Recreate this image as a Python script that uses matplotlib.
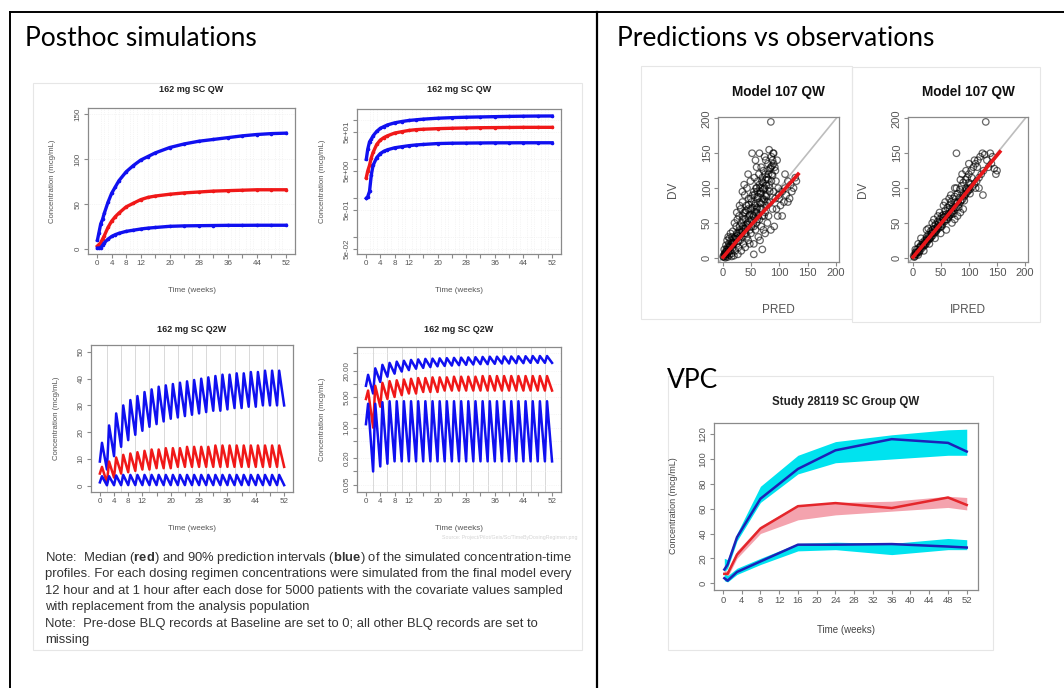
import matplotlib
matplotlib.use("Agg")
import matplotlib.pyplot as plt
from matplotlib.lines import Line2D
from matplotlib.patches import Rectangle

plt.rcParams["font.family"] = ["Liberation Sans", "DejaVu Sans"]
plt.rcParams["mathtext.fontset"] = "custom"
plt.rcParams["mathtext.rm"] = "Liberation Sans"
plt.rcParams["mathtext.bf"] = "Liberation Sans:bold"

# ---- posthoc QW (same simulated profile, linear + log scale)
qw_time = [0.1, 0.5, 1, 1.5, 2, 3, 4, 5, 6, 8, 10, 12, 14, 16, 20, 24, 28, 32, 36, 40, 44, 48, 52]
qw_upper = [10, 18, 28, 33, 40, 52, 62, 69, 76, 86, 93, 99, 103, 107, 113, 117, 120, 122, 124, 126, 127.5, 128.5, 129]
qw_median = [3.4, 5, 7, 11, 15, 24, 31, 36, 40, 47, 51, 55, 57.5, 59, 61, 62.5, 63.5, 64.5, 65, 65.5, 66, 66, 66]
qw_lower = [1.0, 1.1, 1.5, 4, 7, 11, 14, 16, 17.5, 19.7, 21, 22.3, 23.3, 24, 25.3, 25.8, 26, 26.2, 26.4, 26.4, 26.5, 26.5, 26.5]

# ---- posthoc Q2W: value at start, then peak / trough for every dose
q2w_peak_week = [0.6, 2.6, 4.6, 6.6, 8.6, 10.6, 12.6, 14.6, 16.6, 18.6, 20.6, 22.6, 24.6,
                 26.6, 28.6, 30.6, 32.6, 34.6, 36.6, 38.6, 40.6, 42.6, 44.6, 46.6, 48.6, 50.6]
q2w_trough_week = [2, 4, 6, 8, 10, 12, 14, 16, 18, 20, 22, 24, 26,
                   28, 30, 32, 34, 36, 38, 40, 42, 44, 46, 48, 50, 52]
q2w_start = [9, 4.5, 1.2]
q2w_upper_peak = [16, 22.5, 27, 30, 32, 33.5, 35, 36, 37, 37.5, 38, 38.5, 39,
                  39.5, 40, 40.5, 41, 41.5, 41.5, 42, 42, 42.5, 42.5, 43, 43, 43]
q2w_upper_trough = [6, 11, 14.5, 17, 19, 20.5, 22, 23, 24, 25, 25.5, 26, 26.5,
                    27, 27.5, 28, 28, 28.5, 29, 29, 29.5, 29.5, 30, 30, 30, 30]
q2w_median_peak = [7, 9, 10.5, 11.5, 12, 12.5, 13, 13.5, 13.5, 14, 14, 14, 14.5,
                   14.5, 14.5, 14.5, 15, 15, 15, 15, 15, 15, 15, 15, 15, 15]
q2w_median_trough = [1, 3, 4.5, 5, 5.5, 6, 6, 6.5, 6.5, 6.5, 7, 7, 7,
                     7, 7, 7, 7, 7, 7, 7, 7, 7, 7, 7, 7, 7]
q2w_lower_peak = [3.5, 3.5, 3.8, 4, 4, 4, 4, 4, 4, 4, 4, 4, 4,
                  4, 4, 4, 4, 4, 4, 4, 4, 4, 4, 4, 4, 4]
q2w_lower_trough = [0.1, 0.13, 0.15, 0.17, 0.17, 0.17, 0.17, 0.17, 0.17, 0.17, 0.17, 0.17, 0.17,
                    0.17, 0.17, 0.17, 0.17, 0.17, 0.17, 0.17, 0.17, 0.17, 0.17, 0.17, 0.17, 0.17]

week_ticks = [0, 4, 8, 12, 16, 20, 24, 28, 32, 36, 40, 44, 48, 52]
week_labels = ["0", "4", "8", "12", "", "20", "", "28", "", "36", "", "44", "", "52"]
qw_log_ticks = [0.05, 0.1, 0.5, 1, 5, 10, 50, 100]
qw_log_labels = ["5e-02", "", "5e-01", "", "5e+00", "", "5e+01", ""]
q2w_log_ticks = [0.05, 0.1, 0.2, 0.5, 1, 2, 5, 10, 20, 50]
q2w_log_labels = ["0.05", "", "0.20", "", "1.00", "", "5.00", "", "20.00", ""]

# ---- goodness of fit
pred_x = [1, 2, 3, 4, 5, 6, 7, 8, 9, 10, 11, 12, 13, 14, 15, 16, 17, 18, 19, 20, 3, 6, 8, 10, 12, 14, 5, 9, 16, 18,
          22, 23, 24, 25, 26, 27, 28, 29, 30, 31, 32, 33, 34, 35, 36, 37, 38, 39, 40, 41, 42, 43, 44, 45, 46, 47, 48, 49, 50,
          21, 25, 30, 35, 40, 45, 48, 33, 27, 38, 43,
          51, 52, 53, 54, 55, 56, 57, 58, 59, 60, 61, 62, 63, 64, 65, 66, 67, 68, 69, 70, 71, 72, 73, 74, 75, 76, 77, 78, 79, 80,
          55, 58, 62, 66, 70, 74, 78, 60, 68, 72,
          81, 82, 83, 84, 85, 86, 87, 88, 89, 90, 91, 92, 93, 94, 95, 96, 97, 98, 99, 100, 85, 90, 93,
          102, 105, 108, 110, 112, 115, 118, 120, 122, 125, 128, 130, 115, 105, 110,
          15, 20, 25, 30, 35, 40, 45, 50, 55, 60, 65, 70, 75, 10, 5, 20, 25, 30, 35, 40, 45, 50, 55, 60, 65, 70, 75, 80, 85, 88, 90,
          50, 55, 60, 65, 70, 75,
          4, 7, 11, 13, 17, 19, 23, 26, 28, 31, 34, 37, 39, 42, 44, 47, 52, 54, 57, 61, 63, 67, 69, 73, 77, 79, 83, 86, 88, 82,
          36, 41, 46, 51, 56, 61, 66, 71, 76, 81, 84, 87, 62, 67, 72, 77, 80, 58, 53, 48]
pred_dv = [2, 1, 5, 3, 8, 2, 12, 5, 15, 8, 20, 4, 18, 10, 25, 6, 30, 14, 22, 3, 12, 18, 25, 30, 28, 35, 0, 1, 2, 38,
           10, 30, 45, 20, 55, 35, 15, 60, 40, 25, 70, 50, 30, 80, 45, 20, 65, 90, 55, 35, 75, 100, 50, 25, 85, 60, 40, 110, 70,
           50, 65, 75, 95, 15, 120, 20, 10, 5, 105, 30,
           45, 150, 90, 60, 5, 115, 75, 40, 100, 130, 55, 85, 30, 120, 150, 70, 95, 45, 110, 12, 80, 125, 60, 100, 35, 140, 75, 90, 50, 135,
           20, 140, 110, 25, 100, 145, 115, 65, 130, 40,
           60, 155, 100, 80, 195, 145, 120, 70, 150, 95, 45, 130, 85, 110, 70, 140, 60, 100, 90, 85, 40, 150, 125,
           75, 95, 80, 100, 90, 110, 85, 105, 95, 100, 115, 110, 80, 60, 120,
           15, 20, 28, 30, 38, 42, 48, 55, 60, 70, 80, 85, 90, 12, 5, 28, 35, 45, 55, 65, 70, 85, 95, 100, 105, 115, 120, 125, 130, 140, 135,
           35, 45, 50, 55, 60, 65,
           6, 9, 14, 16, 22, 20, 27, 32, 24, 36, 38, 42, 35, 48, 44, 52, 62, 50, 66, 72, 60, 78, 70, 84, 88, 80, 95, 110, 118, 105,
           60, 68, 76, 80, 90, 95, 100, 108, 112, 120, 128, 132, 88, 92, 98, 104, 112, 78, 72, 62]
ipred_x = [2, 4, 5, 7, 8, 10, 12, 13, 15, 17, 18, 20, 22, 24, 25, 27, 28, 30, 32, 33, 35, 36, 38, 40, 41, 43, 45, 46, 48, 50,
           52, 53, 55, 57, 58, 60, 62, 63, 65, 67, 68, 70, 72, 73, 75, 77, 78, 80, 82, 84, 85, 87, 89, 90, 92, 94, 95, 97, 98, 100,
           102, 104, 106, 108, 110, 112, 114, 116, 118, 120, 122, 124, 126, 128, 130, 132, 135, 138, 140, 142, 145, 148, 150,
           125, 118, 115, 110, 100, 95, 90, 85, 80, 75, 70, 60, 50, 40, 30, 20, 10, 45, 35, 25, 15, 10, 5, 55, 65, 75, 85,
           60, 70, 80, 90, 100, 50, 40, 30, 20, 15, 5, 3, 12, 22, 32, 42, 52, 62, 72, 82, 92, 102, 112, 100, 95, 105,
           65, 55, 45, 35, 25, 28, 38, 48, 58, 68, 78, 88,
           6, 9, 14, 19, 23, 26, 29, 34, 37, 39, 44, 47, 51, 54, 56, 59, 64, 66, 69, 71, 74, 76, 79, 83, 86, 88, 93, 96, 99, 103]
ipred_dv = [3, 2, 8, 5, 12, 9, 15, 10, 18, 14, 22, 17, 25, 20, 30, 24, 33, 27, 38, 30, 40, 32, 45, 36, 48, 40, 52, 42, 55, 45,
            60, 48, 62, 52, 68, 55, 72, 58, 75, 62, 80, 65, 85, 68, 88, 72, 150, 92, 76, 98, 80, 103, 84, 108, 88, 112, 92, 115, 95, 120,
            98, 125, 102, 130, 106, 135, 110, 140, 115, 145, 120, 150, 125, 148, 195, 140, 130, 150, 135, 145, 128, 120, 125,
            90, 100, 130, 140, 135, 125, 70, 65, 60, 55, 50, 40, 35, 28, 20, 10, 4, 60, 50, 40, 28, 20, 12, 75, 85, 100, 112,
            60, 70, 80, 90, 100, 50, 40, 30, 20, 15, 5, 1, 8, 18, 28, 38, 45, 55, 63, 72, 82, 92, 100, 108, 100, 115,
            60, 58, 45, 35, 25, 42, 55, 65, 80, 90, 100, 120,
            7, 8, 16, 18, 22, 28, 27, 36, 35, 42, 43, 50, 49, 57, 54, 62, 63, 70, 66, 74, 72, 80, 78, 86, 82, 92, 90, 98, 97, 105]
pred_fit_x = [1, 25, 50, 75, 100, 120, 133]
pred_fit_y = [1, 24, 47, 69, 90, 108, 120]
ipred_fit_x = [1, 40, 80, 120, 155]
ipred_fit_y = [1, 39, 78, 118, 152]
gof_ticks = [0, 50, 100, 150, 200]

# ---- VPC
vpc_time = [0.3, 1, 3, 8, 16, 24, 36, 48, 52]
obs_p95 = [11, 15, 37, 68, 92, 107, 116, 113, 106]
obs_p50 = [7.5, 7.5, 23, 44, 62, 64.5, 60.5, 69, 63]
obs_p05 = [4, 2, 9, 17.5, 31, 31, 31.5, 29.5, 28.7]
ci95_lo = [9, 12, 34, 65, 88, 97, 100, 103, 103]
ci95_hi = [20, 19, 40, 78, 103, 114, 119.5, 123.5, 124]
ci50_lo = [5, 5, 20, 40, 51, 55, 58, 61, 59]
ci50_hi = [10, 10, 26, 46, 63, 65, 66, 70, 69]
ci05_lo = [2, 1, 7, 15, 26, 27, 23, 27, 27]
ci05_hi = [8, 6, 12, 20, 32, 33, 32, 36, 35]
vpc_xticks = [0, 4, 8, 12, 16, 20, 24, 28, 32, 36, 40, 44, 48, 52]
vpc_yticks = [0, 20, 40, 60, 80, 100, 120]

note_lines = [
    "Note:  Median ($\\bf{red}$) and 90% prediction intervals ($\\bf{blue}$) of the simulated concentration-time",
    "profiles. For each dosing regimen concentrations were simulated from the final model every",
    "12 hour and at 1 hour after each dose for 5000 patients with the covariate values sampled",
    "with replacement from the analysis population",
    "Note:  Pre-dose BLQ records at Baseline are set to 0; all other BLQ records are set to",
    "missing",
]
note_y = [561, 577.5, 594, 610, 627, 643]  # baselines

W, H = 1064, 688
fig = plt.figure(figsize=(W / 100, H / 100), dpi=100)


def px_axes(x0, y0, x1, y1):
    return fig.add_axes([x0 / W, 1 - y1 / H, (x1 - x0) / W, (y1 - y0) / H])


def ptext(x, y, s, **kw):
    kw.setdefault("ha", "center")
    kw.setdefault("va", "center")
    return fig.text(x / W, 1 - y / H, s, **kw)


def r_style(ax, size):
    for sp in ax.spines.values():
        sp.set_color("#8a8a8a")
        sp.set_linewidth(0.9)
    ax.tick_params(colors="#8a8a8a", labelcolor="#555555", labelsize=size,
                   length=3, width=0.8, pad=1.5)
    for lab in ax.get_yticklabels():
        lab.set_rotation(90)
        lab.set_va("center")


# ---- table frame
fig.add_artist(Line2D([10 / W, 1], [1 - 12 / H] * 2, color="black", lw=1.4))
fig.add_artist(Line2D([10 / W] * 2, [0, 1 - 12 / H], color="black", lw=1.4))
fig.add_artist(Line2D([597 / W] * 2, [0, 1 - 12 / H], color="black", lw=1.6))
ptext(25, 39, "Posthoc simulations", ha="left", fontsize=19, family="Lato")
ptext(617, 39, "Predictions vs observations", ha="left", fontsize=19, family="Lato")
ptext(667, 381, "VPC", ha="left", fontsize=19, family="Lato")

for x0, y0, x1, y1 in [(33, 83, 582, 650), (641, 66, 852, 319), (852, 67, 1040, 322), (668, 376, 993, 650)]:
    fig.add_artist(Rectangle((x0 / W, 1 - y1 / H), (x1 - x0) / W, (y1 - y0) / H,
                             fill=False, edgecolor="#e6e6e6", lw=0.8))

BLUE = "#1010f0"
RED = "#f01818"


def posthoc(box, title, title_y, log=False, q2w=False):
    ax = px_axes(*box)
    ax.set_xlim(-2.5, 54.5)
    if q2w:
        ax.set_xticks(q2w_trough_week[:-1], minor=True)
        ax.grid(True, which="minor", axis="x", color="#d9d9d9", lw=0.7)
        series = [(q2w_upper_peak, q2w_upper_trough, BLUE, 0),
                  (q2w_median_peak, q2w_median_trough, RED, 1),
                  (q2w_lower_peak, q2w_lower_trough, BLUE, 2)]
        for peaks, troughs, col, k in series:
            tt, vv = [0], [q2w_start[k]]
            for tp, p, tr, v in zip(q2w_peak_week, peaks, q2w_trough_week, troughs):
                tt += [tp, tr]
                vv += [p, v]
            ax.plot(tt, vv, color=col, lw=1.8)
    else:
        ax.set_xticks(range(53), minor=True)
        ax.grid(True, which="minor", axis="x", color="#ececec", lw=0.5, ls=":")
        for vals, col in [(qw_upper, BLUE), (qw_median, RED), (qw_lower, BLUE)]:
            ax.plot(qw_time, vals, color=col, lw=2.4, marker="o", ms=1.6)
    ax.set_xticks(week_ticks, week_labels)
    if log:
        ax.set_yscale("log")
        if q2w:
            ax.set_ylim(0.034, 69)
            ax.set_yticks(q2w_log_ticks, q2w_log_labels)
        else:
            ax.set_ylim(0.037, 195)
            ax.set_yticks(qw_log_ticks, qw_log_labels)
        ax.minorticks_off()
        ax.set_xticks(q2w_trough_week[:-1] if q2w else range(53), minor=True)
        ax.grid(True, which="major", axis="y", color="#ececec", lw=0.5, ls=":")
    else:
        if q2w:
            ax.set_ylim(-2.4, 52.6)
            ax.set_yticks([0, 10, 20, 30, 40, 50])
        else:
            ax.set_ylim(-5.5, 157)
            ax.set_yticks([0, 50, 100, 150])
            ax.grid(True, which="major", axis="y", color="#ececec", lw=0.5, ls=":")
    ax.tick_params(axis="x", which="minor", length=0)
    r_style(ax, 5.8)
    cx = (box[0] + box[2]) / 2
    ptext(cx, title_y, title, fontsize=6.5, fontweight="bold", color="#222222")
    ptext(cx, box[3] + 36, "Time (weeks)", fontsize=5.8, color="#555555")
    ptext(box[0] - 35, (box[1] + box[3]) / 2, "Concentration (mcg/mL)", rotation=90,
          fontsize=5.6, color="#555555")
    return ax


posthoc((88, 108, 295, 254), "162 mg SC QW", 90)
posthoc((357, 109, 561, 254), "162 mg SC QW", 90, log=True)
posthoc((91, 345, 293, 492), "162 mg SC Q2W", 329, q2w=True)
posthoc((357, 347, 561, 492), "162 mg SC Q2W", 329, log=True, q2w=True)
ptext(577, 538, "Source: Project/Pilot/Geis/Sc/TimeByDosingRegimen.png", ha="right",
      fontsize=3.8, color="#d4d4d4")

for line, y in zip(note_lines, note_y):
    ptext(45, y, line, ha="left", va="baseline", fontsize=9.4, color="#333333")


# ---- predictions vs observations
def gof(box, xs, ys, fx, fy, xlabel):
    ax = px_axes(*box)
    ax.plot([-20, 220], [-20, 220], color="#bdbdbd", lw=1.2, zorder=1)
    ax.scatter(xs, ys, s=22, facecolors="none", edgecolors="black", alpha=0.6,
               linewidths=0.9, zorder=2)
    ax.plot(fx, fy, color="#e8161a", lw=2.6, zorder=3)
    ax.set_xlim(-8, 205)
    ax.set_ylim(-6, 202)
    ax.set_xticks(gof_ticks)
    ax.set_yticks(gof_ticks)
    r_style(ax, 8)
    cx = (box[0] + box[2]) / 2
    ptext(cx, 92, "Model 107 QW", fontsize=9.8, fontweight="bold", color="#111111")
    ptext(cx, 310, xlabel, fontsize=8.5, color="#555555")
    ptext(box[0] - 45, (box[1] + box[3]) / 2, "DV", rotation=90, fontsize=8.5, color="#555555")


gof((718, 117, 839, 262), pred_x, pred_dv, pred_fit_x, pred_fit_y, "PRED")
gof((908, 117, 1028, 262), ipred_x, ipred_dv, ipred_fit_x, ipred_fit_y, "IPRED")

# ---- VPC
ax = px_axes(714, 423, 978, 590)
ax.fill_between(vpc_time, ci95_lo, ci95_hi, color="#00e3ef", lw=0)
ax.fill_between(vpc_time, ci50_lo, ci50_hi, color="#f4a3ae", lw=0)
ax.fill_between(vpc_time, ci05_lo, ci05_hi, color="#00e3ef", lw=0)
ax.plot(vpc_time, obs_p95, color="#1c22b8", lw=1.8)
ax.plot(vpc_time, obs_p50, color="#e4262b", lw=1.8)
ax.plot(vpc_time, obs_p05, color="#1c22b8", lw=1.8)
ax.set_xlim(-1.9, 54.4)
ax.set_ylim(-5.5, 129)
ax.set_xticks(vpc_xticks)
ax.set_yticks(vpc_yticks)
r_style(ax, 6.8)
ptext(846, 402, "Study 28119 SC Group QW", fontsize=8.3, fontweight="bold", color="#222222")
ptext(846, 630, "Time (weeks)", fontsize=7, color="#444444")
ptext(674, 506, "Concentration (mcg/mL)", rotation=90, fontsize=6.5, color="#444444")

fig.savefig("out.png", dpi=100)
